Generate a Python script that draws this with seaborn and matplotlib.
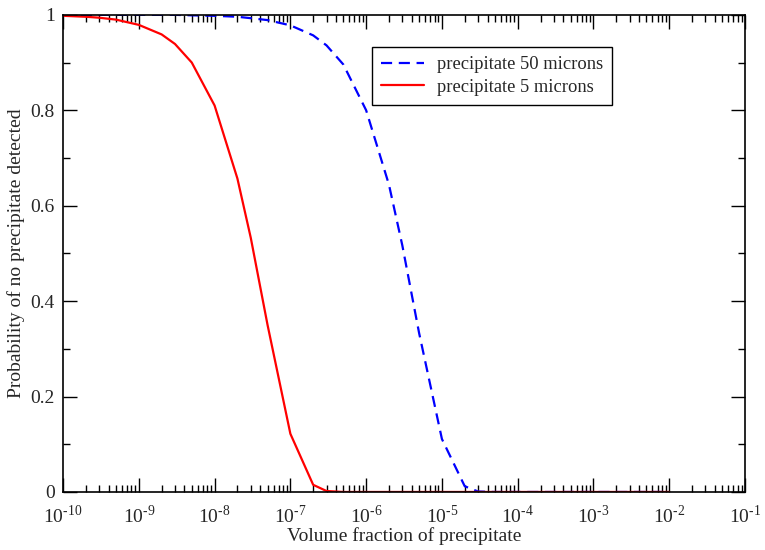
import numpy as np
import pandas as pd
import seaborn as sns
import matplotlib.pyplot as plt
from matplotlib.ticker import LogLocator, NullFormatter, MultipleLocator, FixedLocator

# volume fraction sample points
frac = [1e-10, 2e-10, 3e-10, 5e-10, 1e-9, 2e-9, 3e-9, 5e-9,
        1e-8, 2e-8, 3e-8, 5e-8, 1e-7, 2e-7, 3e-7, 5e-7,
        1e-6, 2e-6, 3e-6, 5e-6, 1e-5, 2e-5, 3e-5, 5e-5,
        1e-4, 2e-4, 5e-4, 1e-3, 2e-3, 5e-3, 1e-2]

p_50um = [1.0, 1.0, 1.0, 1.0, 1.0, 1.0, 1.0, 0.999,
          0.998, 0.996, 0.993, 0.989, 0.978, 0.957, 0.936, 0.896,
          0.80, 0.644, 0.517, 0.333, 0.111, 0.012, 0.001, 0.0,
          0.0, 0.0, 0.0, 0.0, 0.0, 0.0, 0.0]

p_5um = [0.998, 0.996, 0.994, 0.99, 0.979, 0.959, 0.939, 0.90,
         0.81, 0.657, 0.533, 0.35, 0.122, 0.015, 0.002, 0.0,
         0.0, 0.0, 0.0, 0.0, 0.0, 0.0, 0.0, 0.0,
         0.0, 0.0, 0.0, 0.0, 0.0, 0.0, 0.0]

x_exps = list(range(-10, 0))
y_ticks = [0, 0.2, 0.4, 0.6, 0.8, 1.0]
y_ticklabels = ['0', '0.2', '0.4', '0.6', '0.8', '1']

sns.set_style("ticks")
plt.rcParams['font.family'] = ['Liberation Serif', 'DejaVu Serif']
plt.rcParams['mathtext.fontset'] = 'custom'
plt.rcParams['mathtext.rm'] = 'Liberation Serif'

fig = plt.figure(figsize=(7.65, 5.5), dpi=100)
ax = fig.add_axes([0.0824, 0.1055, 0.8915, 0.8675])

df50 = pd.DataFrame({'x': frac, 'p': p_50um})
df5 = pd.DataFrame({'x': frac, 'p': p_5um})

sns.lineplot(data=df50, x='x', y='p', ax=ax, color='#0000ff', lw=1.6,
             label='precipitate 50 microns')
sns.lineplot(data=df5, x='x', y='p', ax=ax, color='#ff0000', lw=1.6,
             label='precipitate 5 microns')
ax.lines[0].set_dashes((5, 3))

ax.set_xscale('log')
ax.set_xlim(1e-10, 1e-1)
ax.set_ylim(0, 1)

ax.xaxis.set_major_locator(FixedLocator([10.0 ** e for e in x_exps]))
ax.set_xticklabels([r'10$^{\text{-%d}}$' % (-e) for e in x_exps])
ax.xaxis.set_minor_locator(LogLocator(base=10, subs=np.arange(2, 10), numticks=200))
ax.xaxis.set_minor_formatter(NullFormatter())
ax.yaxis.set_major_locator(FixedLocator(y_ticks))
ax.set_yticklabels(y_ticklabels)
ax.yaxis.set_minor_locator(MultipleLocator(0.1))

ax.tick_params(which='both', direction='in', top=True, right=True,
               labelsize=14, width=1, color='black')
ax.tick_params(which='major', length=10)
ax.tick_params(which='minor', length=5)
ax.tick_params(axis='x', pad=9)
ax.tick_params(axis='y', pad=6)
for s in ax.spines.values():
    s.set_linewidth(1.2)
    s.set_color('black')

ax.set_xlabel('Volume fraction of precipitate', fontsize=14, labelpad=0)
ax.set_ylabel('Probability of no precipitate detected', fontsize=14, labelpad=4)

leg = ax.legend(loc='upper left', bbox_to_anchor=(0.453, 0.933), fontsize=13.3,
                frameon=True, fancybox=False, edgecolor='black', framealpha=1,
                borderaxespad=0, handlelength=2.3, handletextpad=0.7,
                borderpad=0.5, labelspacing=0.3)
leg.get_frame().set_linewidth(1.0)

fig.savefig('out.png', dpi=100)
